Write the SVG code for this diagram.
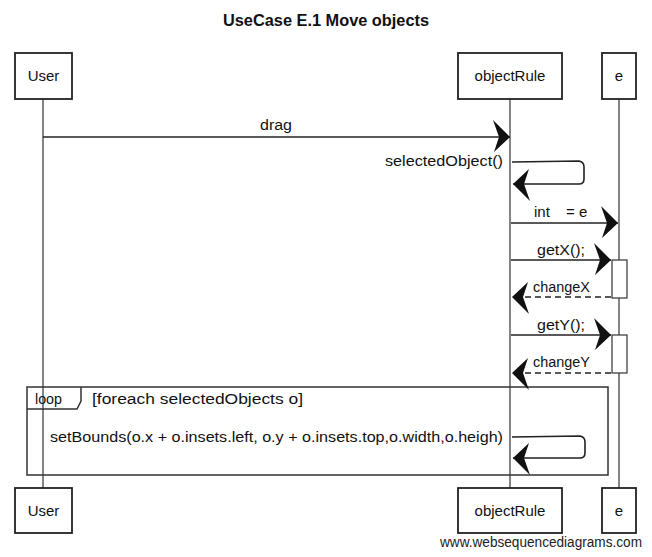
<svg xmlns="http://www.w3.org/2000/svg" width="652" height="557" viewBox="0 0 652 557">
<style>
text{font-family:"Liberation Sans",Arial,sans-serif;fill:#111;font-size:14px}
.box{fill:#fff;stroke:#222;stroke-width:1.8}
.life{stroke:#333;stroke-width:1.2;fill:none}
.msg{stroke:#222;stroke-width:1.6;fill:none}
.dash{stroke:#222;stroke-width:1.5;fill:none;stroke-dasharray:6,4}
.act{fill:#fff;stroke:#333;stroke-width:1.2}
.frame{fill:none;stroke:#333;stroke-width:1.5}
.lbl{text-anchor:middle;font-size:15px}
</style>
<defs>
<marker id="ah" viewBox="-20 -20 24 40" refX="0" refY="0" markerWidth="24" markerHeight="40" orient="auto" markerUnits="userSpaceOnUse">
<path d="M0,0 L-17,-17 L-11,0 L-16,15 Z" fill="#111"/>
</marker>
</defs>
<rect width="652" height="557" fill="#fff"/>
<text x="223" y="26" textLength="206" lengthAdjust="spacingAndGlyphs" style="font-size:16px;font-weight:bold">UseCase E.1 Move objects</text>
<g id="lifelines">
<line class="life" x1="43" y1="99" x2="43" y2="488"/>
<line class="life" x1="510" y1="99" x2="510" y2="488"/>
<line class="life" x1="619" y1="99" x2="619" y2="488"/>
</g>
<g id="activations">
<rect class="act" x="612" y="260" width="15" height="38"/>
<rect class="act" x="612" y="335" width="15" height="38"/>
</g>
<g id="loop">
<rect class="frame" x="27" y="387" width="581" height="88"/>
<path class="frame" d="M27,409 L77,409 L81,401 L81,387"/>
<text x="35" y="404" textLength="27" lengthAdjust="spacingAndGlyphs">loop</text>
<text x="92" y="404" textLength="211" lengthAdjust="spacingAndGlyphs">[foreach selectedObjects o]</text>
</g>
<g id="connectors">
<line class="msg" x1="43" y1="137" x2="510" y2="137" marker-end="url(#ah)"/>
<text x="260" y="130" textLength="32" lengthAdjust="spacingAndGlyphs">drag</text>
<path class="msg" d="M512,162 L579,161 Q584,162 584,167 L584,179 Q584,184 579,184 L513,184" marker-end="url(#ah)"/>
<text x="385" y="166" textLength="118" lengthAdjust="spacingAndGlyphs">selectedObject()</text>
<line class="msg" x1="511" y1="223" x2="618" y2="223" marker-end="url(#ah)"/>
<text x="534" y="217" style="font-size:15px">int<tspan x="566">= e</tspan></text>
<line class="msg" x1="511" y1="260" x2="611" y2="260" marker-end="url(#ah)"/>
<text x="537" y="255" textLength="48" lengthAdjust="spacingAndGlyphs">getX();</text>
<line class="dash" x1="611" y1="297" x2="512" y2="297" marker-end="url(#ah)"/>
<text x="533" y="292" textLength="57" lengthAdjust="spacingAndGlyphs">changeX</text>
<line class="msg" x1="511" y1="335" x2="611" y2="335" marker-end="url(#ah)"/>
<text x="537" y="330" textLength="48" lengthAdjust="spacingAndGlyphs">getY();</text>
<line class="dash" x1="611" y1="373" x2="512" y2="373" marker-end="url(#ah)"/>
<text x="533" y="367" textLength="57" lengthAdjust="spacingAndGlyphs">changeY</text>
<path class="msg" d="M512,437 L580,436 Q585,437 585,442 L585,453 Q585,458 580,458 L513,458" marker-end="url(#ah)"/>
<text x="50" y="442" textLength="453" lengthAdjust="spacingAndGlyphs">setBounds(o.x + o.insets.left, o.y + o.insets.top,o.width,o.heigh)</text>
</g>
<g id="User-top"><rect class="box" x="15" y="53" width="57" height="46"/><text class="lbl" x="43.5" y="81">User</text></g>
<g id="objectRule-top"><rect class="box" x="458" y="53" width="104" height="46"/><text class="lbl" x="510" y="81">objectRule</text></g>
<g id="e-top"><rect class="box" x="602" y="53" width="34" height="46"/><text class="lbl" x="619" y="81">e</text></g>
<g id="User-bottom"><rect class="box" x="15" y="488" width="57" height="45"/><text class="lbl" x="43.5" y="516">User</text></g>
<g id="objectRule-bottom"><rect class="box" x="458" y="488" width="104" height="45"/><text class="lbl" x="510" y="516">objectRule</text></g>
<g id="e-bottom"><rect class="box" x="602" y="488" width="34" height="45"/><text class="lbl" x="619" y="516">e</text></g>
<text x="642" y="547" text-anchor="end" textLength="202" lengthAdjust="spacingAndGlyphs" style="font-size:14px;fill:#222">www.websequencediagrams.com</text>
</svg>
